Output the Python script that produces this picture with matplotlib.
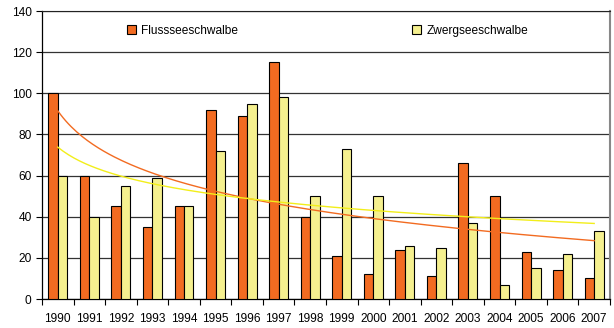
import numpy as np
import matplotlib
matplotlib.use("Agg")
import matplotlib.pyplot as plt

years = ["1990", "1991", "1992", "1993", "1994", "1995", "1996", "1997", "1998",
         "1999", "2000", "2001", "2002", "2003", "2004", "2005", "2006", "2007"]
fluss = [100, 60, 45, 35, 45, 92, 89, 115, 40, 21, 12, 24, 11, 66, 50, 23, 14, 10]
zwerg = [60, 40, 55, 59, 45, 72, 95, 98, 50, 73, 50, 26, 25, 37, 7, 15, 22, 33]

c_fluss = "#F26B21"
c_zwerg = "#F5F08F"

plt.rcParams["font.family"] = ["Liberation Sans", "DejaVu Sans"]
fs = 8.6

fig = plt.figure(figsize=(6.14, 3.28), dpi=100)
ax = fig.add_axes([0.0684, 0.0884, 0.925, 0.878])

x = np.arange(len(years))
w = 0.3
ax.bar(x - w / 2, fluss, w, color=c_fluss, edgecolor="black", linewidth=0.8,
       label="Flussseeschwalbe", zorder=3)
ax.bar(x + w / 2, zwerg, w, color=c_zwerg, edgecolor="black", linewidth=0.8,
       label="Zwergseeschwalbe", zorder=3)

# logarithmic trend lines, fitted on ln(1..n)
t = np.arange(1, len(years) + 1)
tt = np.linspace(1, len(years), 200)
for vals, col in [(fluss, "#F26B21"), (zwerg, "#F2EE1A")]:
    b, a = np.polyfit(np.log(t), vals, 1)
    ax.plot(tt - 1, a + b * np.log(tt), color=col, linewidth=1.0, zorder=4)

ax.set_xlim(-0.5, len(years) - 0.5)
ax.set_ylim(0, 140)
ax.set_yticks(range(0, 141, 20))
ax.set_xticks(x)
ax.set_xticklabels(years, fontsize=fs)
ax.tick_params(axis="x", length=0, pad=10)
ax.set_xticks(np.arange(-0.5, len(years), 1), minor=True)
ax.tick_params(axis="x", which="minor", length=4, direction="out", width=0.8)
ax.tick_params(axis="y", labelsize=fs, length=4, width=0.8, direction="out")
ax.yaxis.grid(True, color="#333333", linewidth=0.9, zorder=0)
ax.set_axisbelow(True)

for s in ["left", "bottom"]:
    ax.spines[s].set_color("black")
    ax.spines[s].set_linewidth(0.9)
ax.spines["top"].set_color("#222222")
ax.spines["right"].set_color("#888888")
ax.spines["right"].set_linewidth(1.5)

ax.legend(loc="upper center", bbox_to_anchor=(0.503, 0.99), ncol=2, frameon=False,
          fontsize=fs, handlelength=0.75, handleheight=0.75, handletextpad=0.4,
          columnspacing=14.6)

fig.savefig("out.png", dpi=100)
